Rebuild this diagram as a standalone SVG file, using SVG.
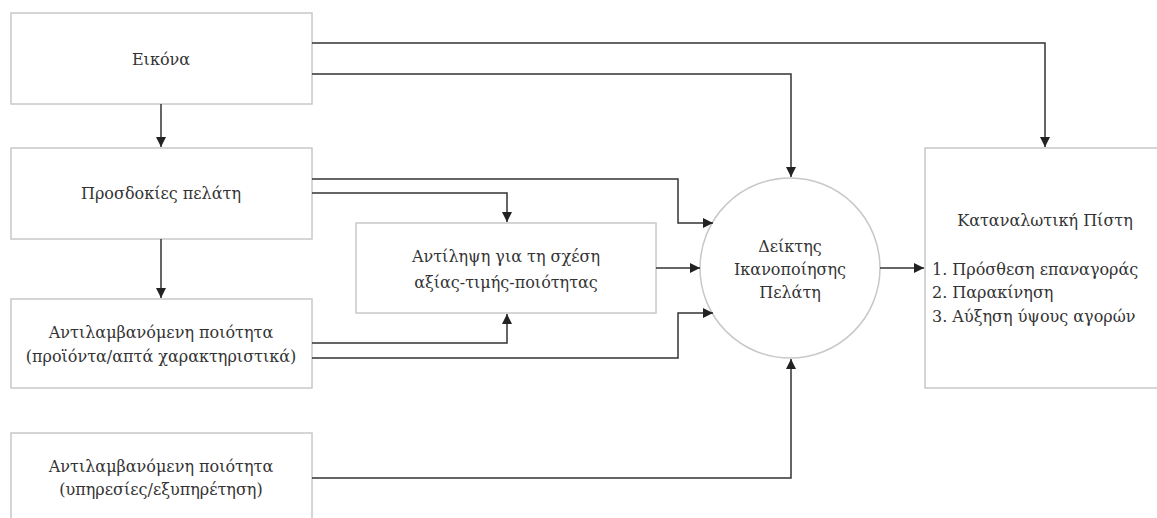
<svg xmlns="http://www.w3.org/2000/svg" width="1157" height="518" viewBox="0 0 1157 518">
<style>
.box{fill:#fff;stroke:#c8c8c8;stroke-width:1.5}
.t{font-family:"DejaVu Serif","Liberation Serif",serif;font-size:16px;fill:#333;text-anchor:middle}
.tl{font-family:"DejaVu Serif","Liberation Serif",serif;font-size:16px;fill:#333}
.c{fill:none;stroke:#333;stroke-width:1.5}
</style>
<defs>
<marker id="ah" viewBox="0 0 10 10" refX="10" refY="5" markerWidth="10" markerHeight="10" markerUnits="userSpaceOnUse" orient="auto">
<path d="M0,0 L10,5 L0,10 z" fill="#222"/>
</marker>
</defs>
<rect width="1157" height="518" fill="#fff"/>
<g id="n-eikona"><rect class="box" x="11" y="13" width="301" height="91"/><text class="t" x="161" y="65">Εικόνα</text></g>
<g id="n-prosdokies"><rect class="box" x="11" y="148" width="301" height="91"/><text class="t" x="161" y="199">Προσδοκίες πελάτη</text></g>
<g id="n-proionta"><rect class="box" x="11" y="299" width="301" height="89"/><text class="t" x="161" y="338">Αντιλαμβανόμενη ποιότητα</text><text class="t" x="161" y="362">(προϊόντα/απτά χαρακτηριστικά)</text></g>
<g id="n-ypiresies"><rect class="box" x="11" y="433" width="301" height="92"/><text class="t" x="161" y="472">Αντιλαμβανόμενη ποιότητα</text><text class="t" x="161" y="495">(υπηρεσίες/εξυπηρέτηση)</text></g>
<g id="n-antilipsi"><rect class="box" x="356" y="223" width="300" height="90"/><text class="t" x="506" y="262">Αντίληψη για τη σχέση</text><text class="t" x="506" y="288">αξίας-τιμής-ποιότητας</text></g>
<g id="n-deiktis"><circle class="box" cx="790" cy="268" r="90"/><text class="t" x="790" y="252">Δείκτης</text><text class="t" x="790" y="275">Ικανοποίησης</text><text class="t" x="790" y="298">Πελάτη</text></g>
<g id="n-pisti"><rect class="box" x="925" y="148" width="240" height="240"/><text class="t" x="1045" y="226">Καταναλωτική Πίστη</text><text class="tl" x="932" y="275">1. Πρόσθεση επαναγοράς</text><text class="tl" x="932" y="298">2. Παρακίνηση</text><text class="tl" x="932" y="322">3. Αύξηση ύψους αγορών</text></g>
<g id="connectors">
<path class="c" d="M161,104 V147" marker-end="url(#ah)"/>
<path class="c" d="M161,239 V298" marker-end="url(#ah)"/>
<path class="c" d="M312,43 H1045 V147" marker-end="url(#ah)"/>
<path class="c" d="M312,74 H791 V177" marker-end="url(#ah)"/>
<path class="c" d="M312,179 H678 V223 H713" marker-end="url(#ah)"/>
<path class="c" d="M312,193 H507 V222" marker-end="url(#ah)"/>
<path class="c" d="M656,268 H700" marker-end="url(#ah)"/>
<path class="c" d="M312,343 H507 V314" marker-end="url(#ah)"/>
<path class="c" d="M312,358 H678 V313 H713" marker-end="url(#ah)"/>
<path class="c" d="M312,478 H791 V359" marker-end="url(#ah)"/>
<path class="c" d="M880,268 H924" marker-end="url(#ah)"/>
</g>
</svg>
